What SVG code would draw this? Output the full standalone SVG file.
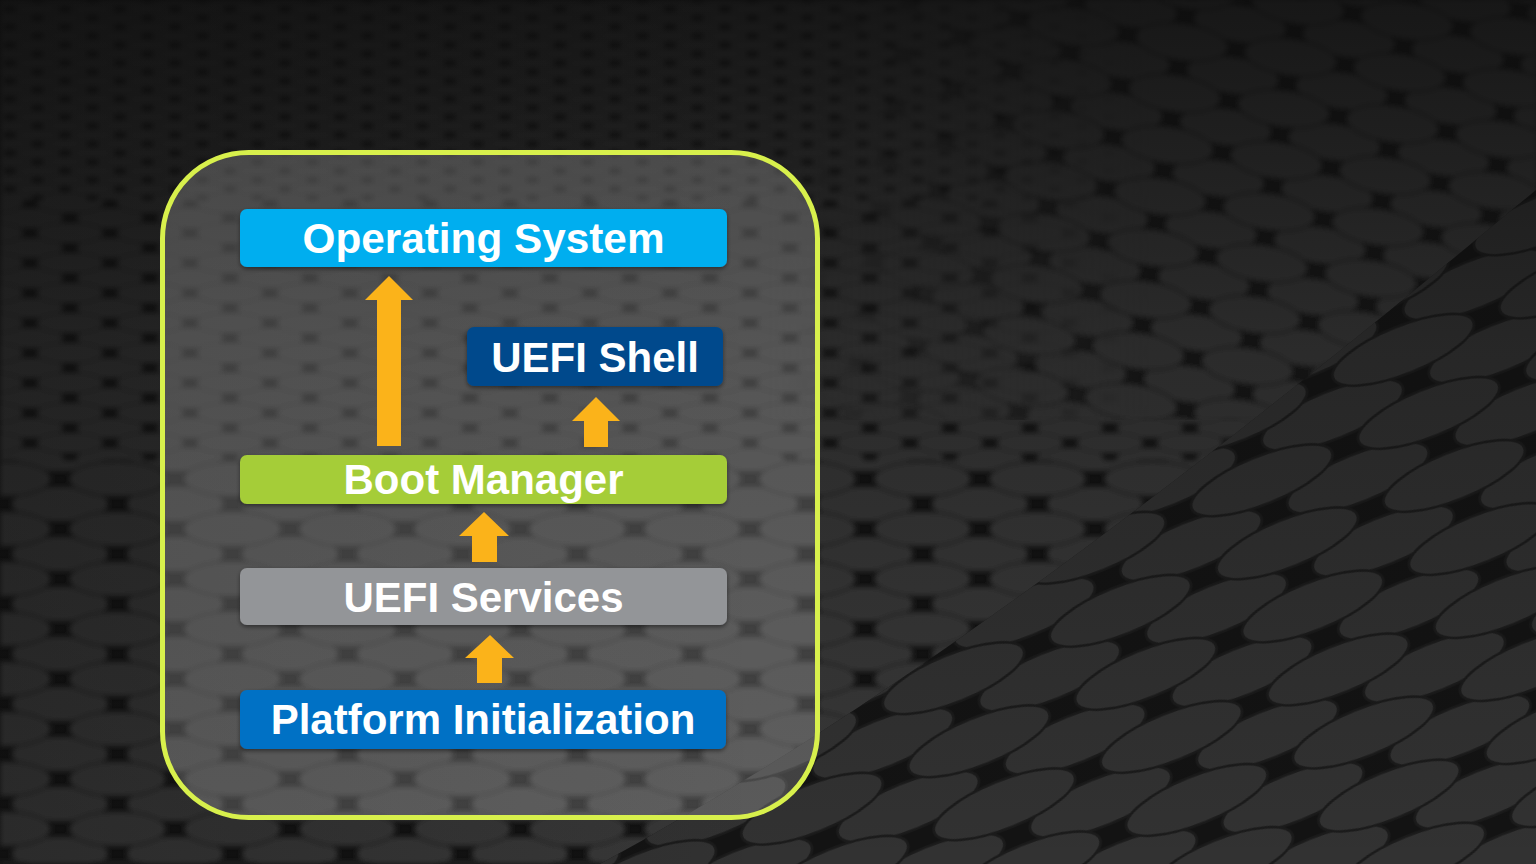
<svg xmlns="http://www.w3.org/2000/svg" width="1536" height="864" viewBox="0 0 1536 864">
  <defs>
    <style>
      .label { font-family: "Liberation Sans", Arial, sans-serif; font-weight: bold; font-size: 42px; fill: #ffffff; text-anchor: middle; }
      .box { filter: url(#shadow); }
      .arrow { fill: #fbb31a; }
      .disc { fill: #383838; stroke: #1c1c1c; stroke-width: 1.5; }
    </style>
    <!-- staggered disc texture, reused at several scales -->
    <pattern id="discs" width="100" height="40" patternUnits="userSpaceOnUse">
      <ellipse class="disc" cx="0" cy="0" rx="42" ry="14"/>
      <ellipse class="disc" cx="100" cy="0" rx="42" ry="14"/>
      <ellipse class="disc" cx="0" cy="40" rx="42" ry="14"/>
      <ellipse class="disc" cx="100" cy="40" rx="42" ry="14"/>
      <ellipse class="disc" cx="50" cy="20" rx="42" ry="14"/>
    </pattern>
    <pattern id="discsSmall" href="#discs" patternTransform="translate(10 0) scale(0.55 0.45)"/>
    <pattern id="discsMid" href="#discs" patternTransform="translate(30 8) scale(0.8 0.75)"/>
    <pattern id="discsTopRight" href="#discs" patternTransform="translate(20 10) rotate(8) scale(1.1 1.3)"/>
    <pattern id="discsLarge" href="#discs" patternTransform="translate(60 4) scale(1.15 1.25)"/>
    <pattern id="discsWave" href="#discs" patternTransform="rotate(-22) scale(1.8 1.7)"/>
    <filter id="soft" x="-5%" y="-5%" width="110%" height="110%">
      <feGaussianBlur stdDeviation="2.5"/>
    </filter>
    <filter id="shadow" x="-5%" y="-20%" width="110%" height="150%">
      <feDropShadow dx="0" dy="2" stdDeviation="2" flood-color="#000000" flood-opacity="0.45"/>
    </filter>
    <linearGradient id="topShade" x1="0" y1="0" x2="0" y2="1">
      <stop offset="0" stop-color="#0c0c0c" stop-opacity="0.75"/>
      <stop offset="0.4" stop-color="#0c0c0c" stop-opacity="0.3"/>
      <stop offset="1" stop-color="#0c0c0c" stop-opacity="0"/>
    </linearGradient>
    <linearGradient id="leftShade" x1="0" y1="0" x2="1" y2="0">
      <stop offset="0" stop-color="#0c0c0c" stop-opacity="0.3"/>
      <stop offset="0.5" stop-color="#0c0c0c" stop-opacity="0"/>
    </linearGradient>
    <linearGradient id="rightFade" x1="0" y1="0" x2="1" y2="0">
      <stop offset="0.5" stop-color="#ffffff" stop-opacity="0"/>
      <stop offset="0.75" stop-color="#ffffff" stop-opacity="1"/>
    </linearGradient>
    <linearGradient id="downFade" x1="0" y1="0" x2="0" y2="1">
      <stop offset="0.6" stop-color="#ffffff" stop-opacity="1"/>
      <stop offset="1" stop-color="#ffffff" stop-opacity="0"/>
    </linearGradient>
    <mask id="topRightMask">
      <rect width="1536" height="420" fill="url(#rightFade)"/>
    </mask>
    <clipPath id="waveClip">
      <path d="M600 864 C 900 700 1200 470 1536 190 L1536 864 Z"/>
    </clipPath>
  </defs>

  <!-- background: dark disc field -->
  <g id="background">
    <rect width="1536" height="864" fill="#121212"/>
    <g filter="url(#soft)">
      <rect x="0" y="0" width="1536" height="200" fill="url(#discsSmall)"/>
      <rect x="0" y="200" width="1536" height="260" fill="url(#discsMid)"/>
      <rect x="0" y="460" width="1536" height="404" fill="url(#discsLarge)"/>
    </g>
    <!-- larger discs curving away in the upper right -->
    <g mask="url(#topRightMask)">
      <g filter="url(#soft)">
        <rect width="1536" height="420" fill="#121212"/>
        <rect width="1536" height="420" fill="url(#discsTopRight)"/>
      </g>
    </g>
    <g clip-path="url(#waveClip)">
      <rect width="1536" height="864" fill="#131313"/>
      <rect width="1536" height="864" fill="url(#discsWave)" opacity="0.85"/>
    </g>
    <rect width="1536" height="864" fill="url(#topShade)"/>
    <rect width="1536" height="864" fill="url(#leftShade)"/>
  </g>

  <!-- framed panel -->
  <g id="panel">
    <rect x="162.5" y="152.5" width="655" height="665" rx="86" ry="86" fill="#ffffff" fill-opacity="0.2" stroke="#d8f04c" stroke-width="5"/>
  </g>

  <!-- arrows between layers -->
  <g id="connectors">
    <polygon class="arrow" points="389,276 413,300 401,300 401,446 377,446 377,300 365,300"/>
    <polygon class="arrow" points="596,397 620,421 608,421 608,447 584,447 584,421 572,421"/>
    <polygon class="arrow" points="484,512 509,536 497,536 497,562 472,562 472,536 459,536"/>
    <polygon class="arrow" points="490,635 514,658 502,658 502,683 477,683 477,658 465,658"/>
  </g>

  <g id="operating-system">
    <rect class="box" x="240" y="209" width="487" height="58" rx="7" fill="#00aeef"/>
    <text class="label" x="483.5" y="253" textLength="362" lengthAdjust="spacingAndGlyphs">Operating System</text>
  </g>

  <g id="uefi-shell">
    <rect class="box" x="467" y="327" width="256" height="59" rx="7" fill="#064a8c"/>
    <text class="label" x="595" y="372">UEFI Shell</text>
  </g>

  <g id="boot-manager">
    <rect class="box" x="240" y="455" width="487" height="49" rx="7" fill="#a5cd39"/>
    <text class="label" x="483.5" y="494">Boot Manager</text>
  </g>

  <g id="uefi-services">
    <rect class="box" x="240" y="568" width="487" height="57" rx="7" fill="#939598"/>
    <text class="label" x="483.5" y="612">UEFI Services</text>
  </g>

  <g id="platform-initialization">
    <rect class="box" x="240" y="690" width="486" height="59" rx="7" fill="#0071c5"/>
    <text class="label" x="483" y="734">Platform Initialization</text>
  </g>
</svg>
